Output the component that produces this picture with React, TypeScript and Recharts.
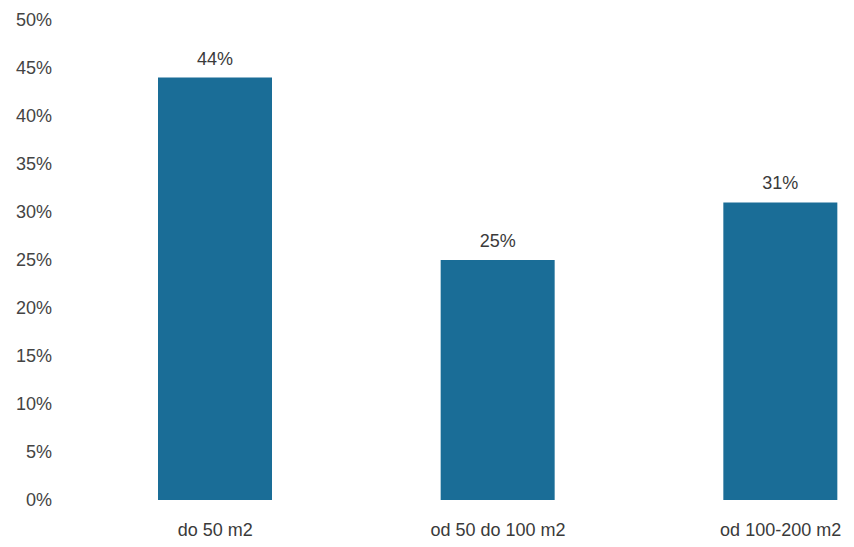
import React from "react";
import { BarChart, Bar, XAxis, YAxis, LabelList } from "recharts";

const categories = ["do 50 m2", "od 50 do 100 m2", "od 100-200 m2"];
const shares = [44, 25, 31];
const yTicks = [0, 5, 10, 15, 20, 25, 30, 35, 40, 45, 50];

const data = categories.map((name, i) => ({ name, value: shares[i] }));

const FONT = "'Liberation Sans', Arial, sans-serif";

export default function App() {
  return (
    <div style={{ width: 846, height: 539, overflow: "hidden" }}>
      <BarChart
        width={914}
        height={539}
        data={data}
        margin={{ top: 12, right: 0, bottom: 17, left: 0 }}
      >
        <XAxis
          dataKey="name"
          axisLine={false}
          tickLine={false}
          tickSize={0}
          tickMargin={23}
          height={30}
          tick={{ fill: "#3a3a3a", fontSize: 18, fontFamily: FONT }}
        />
        <YAxis
          domain={[0, 50]}
          ticks={yTicks}
          interval={0}
          width={66}
          axisLine={false}
          tickLine={false}
          tickSize={0}
          tickMargin={22}
          tickFormatter={(v: number) => `${v}%`}
          tick={{ fill: "#444", fontSize: 18, fontFamily: FONT }}
        />
        <Bar dataKey="value" fill="#1a6d97" barSize={114} isAnimationActive={false}>
          <LabelList
            dataKey="value"
            position="top"
            offset={13}
            formatter={(v: number) => `${v}%`}
            style={{ fill: "#3a3a3a", fontSize: 18, fontFamily: FONT }}
          />
        </Bar>
      </BarChart>
    </div>
  );
}
